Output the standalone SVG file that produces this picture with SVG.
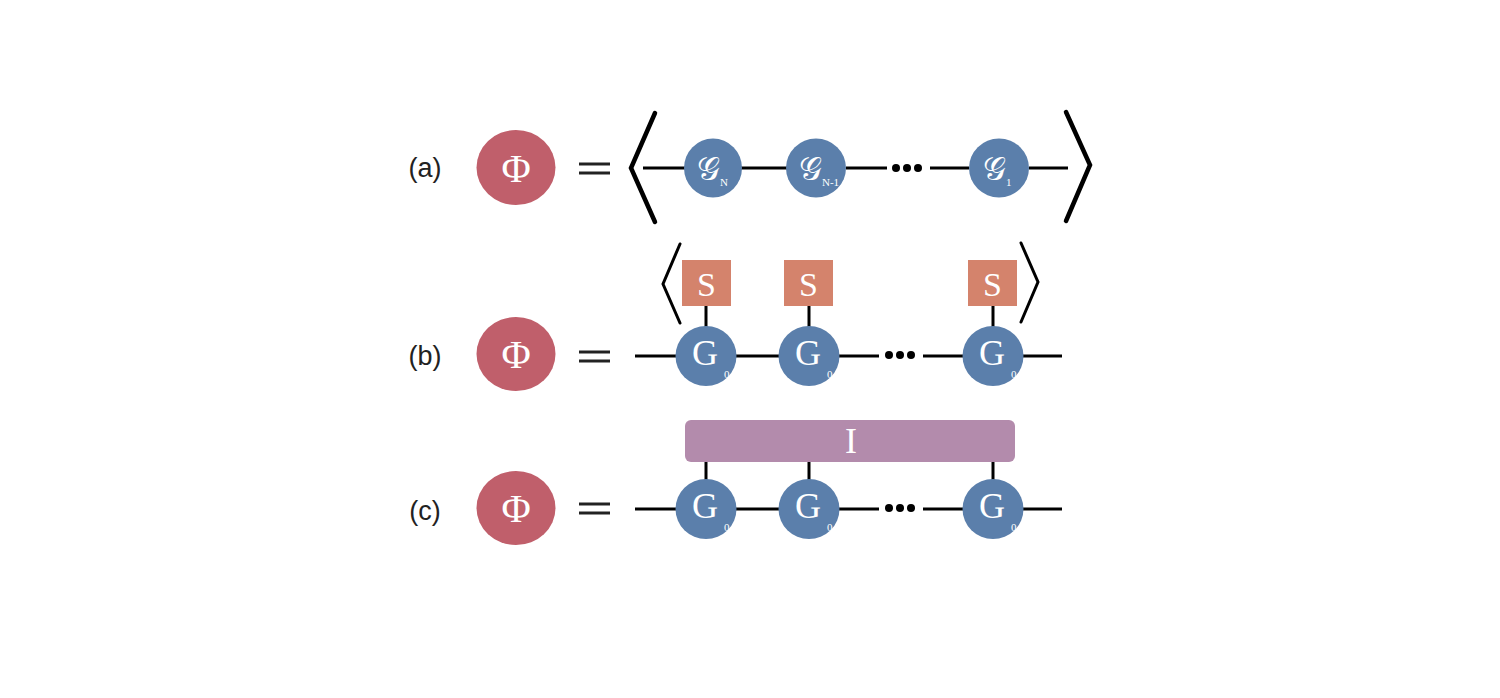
<svg xmlns="http://www.w3.org/2000/svg" width="1500" height="698" viewBox="0 0 1500 698">
<style>
.lbl{font-family:"Liberation Sans",Arial,sans-serif;font-size:27px;fill:#222}
.phi{fill:#c05f6b}
.g{fill:#5b7fab}
.s{fill:#d4836c}
.ibox{fill:#b38bac}
.wt{font-family:"Liberation Serif","Times New Roman",serif;fill:#fff}
.big{font-size:40px}
.gt{font-size:36px}
.sc{font-size:32px}
.st{font-size:34px}
.sub{font-size:11px}
.ln{stroke:#000;stroke-width:3;fill:none;stroke-linecap:butt}
.br{stroke:#000;stroke-width:4.5;fill:none;stroke-linecap:round;stroke-linejoin:miter}
.brs{stroke:#000;stroke-width:3;fill:none;stroke-linecap:round}
.eq{stroke:#222;stroke-width:3}
</style>
<rect width="1500" height="698" fill="#fff"/>
<g id="connectors">
  <!-- row a -->
  <line class="ln" x1="643" y1="168" x2="685" y2="168"/>
  <line class="ln" x1="741" y1="168" x2="787" y2="168"/>
  <line class="ln" x1="846" y1="168" x2="887" y2="168"/>
  <line class="ln" x1="930" y1="168" x2="969" y2="168"/>
  <line class="ln" x1="1029" y1="168" x2="1068" y2="168"/>
  <!-- row b -->
  <line class="ln" x1="635" y1="356" x2="677" y2="356"/>
  <line class="ln" x1="736" y1="356" x2="779" y2="356"/>
  <line class="ln" x1="839" y1="356" x2="879" y2="356"/>
  <line class="ln" x1="923" y1="356" x2="963" y2="356"/>
  <line class="ln" x1="1023" y1="356" x2="1062" y2="356"/>
  <line class="ln" x1="706" y1="306" x2="706" y2="327"/>
  <line class="ln" x1="809" y1="306" x2="809" y2="327"/>
  <line class="ln" x1="993" y1="306" x2="993" y2="327"/>
  <!-- row c -->
  <line class="ln" x1="635" y1="509" x2="677" y2="509"/>
  <line class="ln" x1="736" y1="509" x2="779" y2="509"/>
  <line class="ln" x1="839" y1="509" x2="879" y2="509"/>
  <line class="ln" x1="923" y1="509" x2="963" y2="509"/>
  <line class="ln" x1="1023" y1="509" x2="1062" y2="509"/>
  <line class="ln" x1="706" y1="461" x2="706" y2="481"/>
  <line class="ln" x1="809" y1="461" x2="809" y2="481"/>
  <line class="ln" x1="993" y1="461" x2="993" y2="481"/>
</g>
<g id="row-a">
  <text class="lbl" x="425" y="177" text-anchor="middle">(a)</text>
  <g id="phi-a"><ellipse class="phi" cx="516" cy="167.5" rx="39.5" ry="37.5"/><text class="wt big" x="516" y="182" text-anchor="middle">Φ</text></g>
  <g id="eq-a"><line class="eq" x1="579" y1="164" x2="610" y2="164"/><line class="eq" x1="579" y1="173" x2="610" y2="173"/></g>
  <path class="br" d="M655 113 L631 168 L655 222"/>
  <path class="br" d="M1066 112 L1090 165 L1066 221"/>
  <g id="gN"><ellipse class="g" cx="713" cy="168" rx="29" ry="29.5"/><text class="wt sc" x="708" y="180" text-anchor="middle">𝒢</text><text class="wt sub" x="720" y="186">N</text></g>
  <g id="gN1"><ellipse class="g" cx="816" cy="168" rx="30" ry="29.5"/><text class="wt sc" x="810" y="180" text-anchor="middle">𝒢</text><text class="wt sub" x="822" y="186">N-1</text></g>
  <g id="dots-a" fill="#000"><circle cx="896" cy="168" r="4"/><circle cx="907" cy="168" r="4"/><circle cx="918" cy="168" r="4"/></g>
  <g id="g1"><ellipse class="g" cx="999" cy="168" rx="30" ry="29.5"/><text class="wt sc" x="994" y="180" text-anchor="middle">𝒢</text><text class="wt sub" x="1006" y="186">1</text></g>
</g>
<g id="row-b">
  <text class="lbl" x="425" y="365" text-anchor="middle">(b)</text>
  <g id="phi-b"><ellipse class="phi" cx="516" cy="354" rx="39.5" ry="37"/><text class="wt big" x="516" y="368" text-anchor="middle">Φ</text></g>
  <g id="eq-b"><line class="eq" x1="579" y1="352" x2="610" y2="352"/><line class="eq" x1="579" y1="361" x2="610" y2="361"/></g>
  <path class="brs" d="M680 244 L663 284 L680 323"/>
  <path class="brs" d="M1021 243 L1038 282 L1021 322"/>
  <g id="s1"><rect class="s" x="682" y="260" width="49" height="46"/><text class="wt st" x="706.5" y="296" text-anchor="middle">S</text></g>
  <g id="s2"><rect class="s" x="784" y="260" width="49" height="46"/><text class="wt st" x="808.5" y="296" text-anchor="middle">S</text></g>
  <g id="s3"><rect class="s" x="968" y="260" width="49" height="46"/><text class="wt st" x="992.5" y="296" text-anchor="middle">S</text></g>
  <g id="gb1"><ellipse class="g" cx="706" cy="356" rx="30.5" ry="30"/><text class="wt gt" x="705" y="365" text-anchor="middle">G</text><text class="wt sub" x="724" y="378">0</text></g>
  <g id="gb2"><ellipse class="g" cx="809" cy="356" rx="30.5" ry="30"/><text class="wt gt" x="808" y="365" text-anchor="middle">G</text><text class="wt sub" x="827" y="378">0</text></g>
  <g id="dots-b" fill="#000"><circle cx="889" cy="355" r="4"/><circle cx="900" cy="355" r="4"/><circle cx="911" cy="355" r="4"/></g>
  <g id="gb3"><ellipse class="g" cx="993" cy="356" rx="30.5" ry="30"/><text class="wt gt" x="992" y="365" text-anchor="middle">G</text><text class="wt sub" x="1011" y="378">0</text></g>
</g>
<g id="row-c">
  <text class="lbl" x="425" y="520" text-anchor="middle">(c)</text>
  <g id="phi-c"><ellipse class="phi" cx="516" cy="508" rx="39.5" ry="37"/><text class="wt big" x="516" y="522" text-anchor="middle">Φ</text></g>
  <g id="eq-c"><line class="eq" x1="579" y1="504" x2="610" y2="504"/><line class="eq" x1="579" y1="513" x2="610" y2="513"/></g>
  <g id="ibox"><rect class="ibox" x="685" y="420" width="330" height="42" rx="6"/><text class="wt" font-size="36" x="851" y="453" text-anchor="middle">I</text></g>
  <g id="gc1"><ellipse class="g" cx="706" cy="509" rx="30.5" ry="30"/><text class="wt gt" x="705" y="518" text-anchor="middle">G</text><text class="wt sub" x="724" y="531">0</text></g>
  <g id="gc2"><ellipse class="g" cx="809" cy="509" rx="30.5" ry="30"/><text class="wt gt" x="808" y="518" text-anchor="middle">G</text><text class="wt sub" x="827" y="531">0</text></g>
  <g id="dots-c" fill="#000"><circle cx="889" cy="508" r="4"/><circle cx="900" cy="508" r="4"/><circle cx="911" cy="508" r="4"/></g>
  <g id="gc3"><ellipse class="g" cx="993" cy="509" rx="30.5" ry="30"/><text class="wt gt" x="992" y="518" text-anchor="middle">G</text><text class="wt sub" x="1011" y="531">0</text></g>
</g>
</svg>
